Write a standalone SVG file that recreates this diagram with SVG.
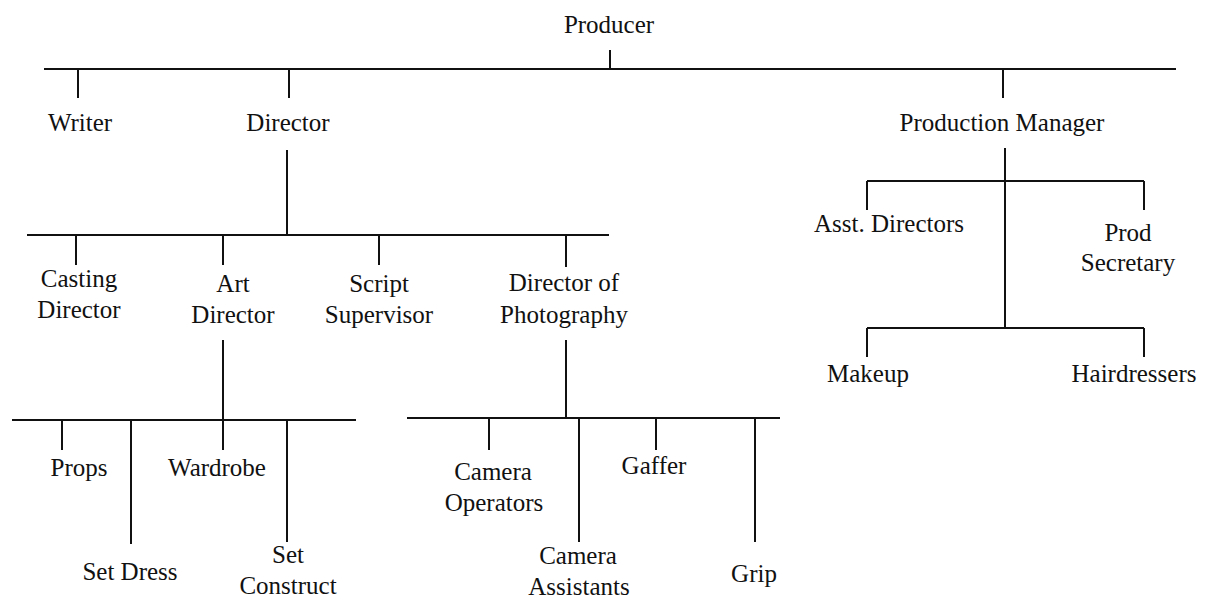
<svg xmlns="http://www.w3.org/2000/svg" width="1212" height="598" viewBox="0 0 1212 598">
<style>
text{font-family:"Liberation Serif","Times New Roman",serif;font-size:25px;fill:#111;text-anchor:middle}
.c line{stroke:#111;stroke-width:2}
</style>
<rect width="1212" height="598" fill="#fff"/>
<g class="c" id="connectors">
<line x1="610" y1="50" x2="610" y2="69"/>
<line x1="44" y1="69" x2="1176" y2="69"/>
<line x1="78" y1="69" x2="78" y2="98"/>
<line x1="289" y1="69" x2="289" y2="98"/>
<line x1="1003" y1="69" x2="1003" y2="98"/>
<line x1="287" y1="150" x2="287" y2="235"/>
<line x1="27" y1="235" x2="609" y2="235"/>
<line x1="76" y1="235" x2="76" y2="265"/>
<line x1="223" y1="235" x2="223" y2="265"/>
<line x1="379" y1="235" x2="379" y2="265"/>
<line x1="566" y1="235" x2="566" y2="267"/>
<line x1="223" y1="340" x2="223" y2="420"/>
<line x1="12" y1="420" x2="356" y2="420"/>
<line x1="62" y1="420" x2="62" y2="450"/>
<line x1="131" y1="420" x2="131" y2="544"/>
<line x1="223" y1="420" x2="223" y2="450"/>
<line x1="287" y1="420" x2="287" y2="542"/>
<line x1="566" y1="340" x2="566" y2="418"/>
<line x1="407" y1="418" x2="780" y2="418"/>
<line x1="489" y1="418" x2="489" y2="450"/>
<line x1="579" y1="418" x2="579" y2="542"/>
<line x1="656" y1="418" x2="656" y2="450"/>
<line x1="755" y1="418" x2="755" y2="542"/>
<line x1="1005" y1="148" x2="1005" y2="328"/>
<line x1="867" y1="181" x2="1144" y2="181"/>
<line x1="867" y1="181" x2="867" y2="210"/>
<line x1="1144" y1="181" x2="1144" y2="210"/>
<line x1="867" y1="328" x2="1144" y2="328"/>
<line x1="867" y1="328" x2="867" y2="357"/>
<line x1="1144" y1="328" x2="1144" y2="357"/>
</g>
<g id="producer"><text x="609" y="33">Producer</text></g>
<g id="writer"><text x="80" y="131">Writer</text></g>
<g id="director"><text x="288" y="131">Director</text></g>
<g id="production-manager"><text x="1002" y="131">Production Manager</text></g>
<g id="casting-director"><text x="79" y="287">Casting</text><text x="79" y="318">Director</text></g>
<g id="art-director"><text x="233" y="292">Art</text><text x="233" y="323">Director</text></g>
<g id="script-supervisor"><text x="379" y="292">Script</text><text x="379" y="323">Supervisor</text></g>
<g id="director-of-photography"><text x="564" y="291">Director of</text><text x="564" y="323">Photography</text></g>
<g id="props"><text x="79" y="476">Props</text></g>
<g id="wardrobe"><text x="217" y="476">Wardrobe</text></g>
<g id="set-dress"><text x="130" y="580">Set Dress</text></g>
<g id="set-construct"><text x="288" y="563">Set</text><text x="288" y="594">Construct</text></g>
<g id="camera-operators"><text x="493" y="480">Camera</text><text x="494" y="511">Operators</text></g>
<g id="gaffer"><text x="654" y="474">Gaffer</text></g>
<g id="camera-assistants"><text x="578" y="564">Camera</text><text x="579" y="595">Assistants</text></g>
<g id="grip"><text x="754" y="582">Grip</text></g>
<g id="asst-directors"><text x="889" y="232">Asst. Directors</text></g>
<g id="prod-secretary"><text x="1128" y="241">Prod</text><text x="1128" y="271">Secretary</text></g>
<g id="makeup"><text x="868" y="382">Makeup</text></g>
<g id="hairdressers"><text x="1134" y="382">Hairdressers</text></g>
</svg>
